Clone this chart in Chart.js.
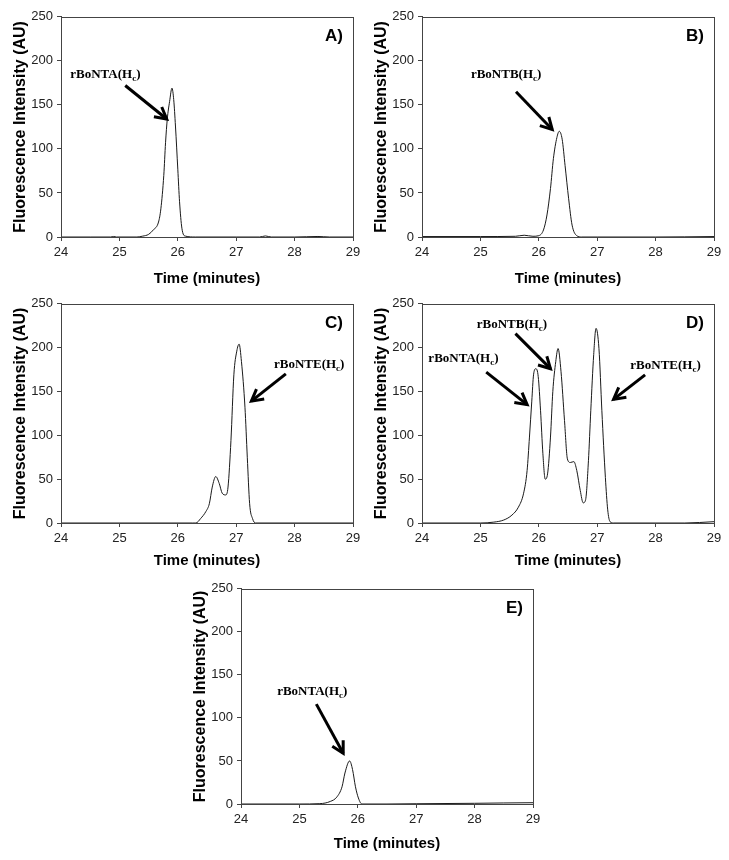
<!DOCTYPE html>
<html>
<head>
<meta charset="utf-8">
<title>rBoNT(Hc) electropherograms</title>
<script src="https://cdn.jsdelivr.net/npm/chart.js@4.4.1/dist/chart.umd.min.js"></script>
<style>
  body { margin: 0; background: #fff; }
  #page { position: relative; width: 729px; height: 860px; overflow: hidden; }
  #page canvas { position: absolute; }
</style>
</head>
<body>
<div id="page"></div>
<script>
// --- Data (time in minutes, intensity in AU) ---
const timeA = [24, 24.5, 24.85, 24.9, 24.95, 25.3, 25.4, 25.5, 25.58, 25.67, 25.71, 25.76, 25.79, 25.82, 25.86, 25.9, 25.93, 25.96, 26.0, 26.03, 26.07, 26.13, 26.3, 27.0, 27.4, 27.5, 27.6, 28.0, 28.4, 28.6, 29];
const intA  = [0, 0, 0, 0.6, 0, 0, 1, 3, 8, 17, 32, 70, 107, 134, 154, 169, 156, 126, 77, 40, 10, 1, 0, 0, 0, 1.2, 0, 0, 0.6, 0, 0];

const timeB = [24, 25, 25.6, 25.75, 25.9, 26.0, 26.08, 26.14, 26.2, 26.25, 26.31, 26.35, 26.4, 26.45, 26.51, 26.57, 26.65, 26.73, 27, 28, 29];
const intB  = [0.5, 0.5, 0.8, 2, 0.8, 1.5, 8, 25, 55, 89, 113, 120, 111, 81, 44, 13.5, 1.5, 0, 0, 0, 0.5];

const timeC = [24, 26.25, 26.31, 26.39, 26.48, 26.54, 26.59, 26.65, 26.71, 26.76, 26.82, 26.86, 26.91, 26.96, 27.01, 27.05, 27.09, 27.15, 27.19, 27.23, 27.28, 27.33, 29];
const intC  = [0, 0, 0, 5, 13, 22, 41, 53, 45, 34, 32, 41, 94, 169, 196, 204, 184, 132, 75, 22, 5, 0, 0];

const timeD = [24, 25.0, 25.23, 25.4, 25.54, 25.65, 25.74, 25.8, 25.84, 25.88, 25.91, 25.95, 25.99, 26.03, 26.07, 26.11, 26.15, 26.2, 26.24, 26.29, 26.33, 26.38, 26.44, 26.49, 26.54, 26.6, 26.65, 26.71, 26.76, 26.8, 26.85, 26.89, 26.94, 26.98, 27.03, 27.08, 27.14, 27.18, 27.22, 27.28, 28.5, 29];
const intD  = [0, 0, 1, 3.4, 9, 18, 34, 60, 98, 139, 169, 176, 167, 128, 79, 50, 56, 98, 150, 184, 199, 173, 117, 73, 69, 70, 60, 37, 23, 26, 71, 128, 192, 222, 199, 128, 52, 15, 1.5, 0, 0, 1.5];

const timeE = [24, 25.0, 25.35, 25.53, 25.64, 25.73, 25.78, 25.86, 25.91, 25.96, 26.01, 26.07, 26.5, 27, 28, 28.5, 29];
const intE  = [0, 0, 0.4, 3, 8, 20, 36, 50, 40, 20, 7, 0, 0, 0.3, 0.8, 1.2, 1.5];

// --- Peak labels: text centre and arrow (tail -> head), in data units ---
const notesA = [{ name: "rBoNTA", x: 24.76, y: 186, from: [25.10, 172], to: [25.81, 134] }];
const notesB = [{ name: "rBoNTB", x: 25.44, y: 186, from: [25.61, 165], to: [26.23, 122] }];
const notesC = [{ name: "rBoNTE", x: 28.25, y: 182, from: [27.85, 170], to: [27.26, 139] }];
const notesD = [
  { name: "rBoNTA", x: 24.71, y: 189, from: [25.10, 172], to: [25.80, 135] },
  { name: "rBoNTB", x: 25.54, y: 228, from: [25.60, 216], to: [26.20, 176] },
  { name: "rBoNTE", x: 28.17, y: 181, from: [27.82, 169], to: [27.28, 141] }
];
const notesE = [{ name: "rBoNTA", x: 25.22, y: 132, from: [25.29, 116], to: [25.75, 59] }];

const xTicks = { min: 24, max: 29, step: 1 };
const yTicks = { min: 0, max: 250, step: 50 };

const SANS = "'Liberation Sans', Arial, sans-serif";
const SERIF = "'Liberation Serif', 'Times New Roman', serif";

// --- Panel placement on the page ---
const panels = [
  { letter: "A)", time: timeA, values: intA, notes: notesA, left: 0,   top: 5,   height: 283, titleGap: 42 },
  { letter: "B)", time: timeB, values: intB, notes: notesB, left: 361, top: 5,   height: 283, titleGap: 42 },
  { letter: "C)", time: timeC, values: intC, notes: notesC, left: 0,   top: 292, height: 278, titleGap: 38 },
  { letter: "D)", time: timeD, values: intD, notes: notesD, left: 361, top: 292, height: 278, titleGap: 38 },
  { letter: "E)", time: timeE, values: intE, notes: notesE, left: 180, top: 577, height: 276, titleGap: 40 }
];

// --- Label with subscript c: name(Hc) ---
function drawNote(ctx, name, cx, cy) {
  const big = "bold 13px " + SERIF;
  const small = "bold 9px " + SERIF;
  ctx.font = big;
  const w1 = ctx.measureText(name + "(H").width;
  const w3 = ctx.measureText(")").width;
  ctx.font = small;
  const w2 = ctx.measureText("c").width;
  let x = cx - (w1 + w2 + w3) / 2;
  const base = cy + 4.5;
  ctx.textAlign = "left";
  ctx.textBaseline = "alphabetic";
  ctx.font = big;   ctx.fillText(name + "(H", x, base); x += w1;
  ctx.font = small; ctx.fillText("c", x, base + 3);    x += w2;
  ctx.font = big;   ctx.fillText(")", x, base);
}

function drawArrow(ctx, x1, y1, x2, y2) {
  const ang = Math.atan2(y2 - y1, x2 - x1);
  const len = 13;
  ctx.lineWidth = 3;
  ctx.lineCap = "butt";
  ctx.lineJoin = "miter";
  ctx.beginPath();
  ctx.moveTo(x1, y1);
  ctx.lineTo(x2, y2);
  ctx.stroke();
  ctx.beginPath();
  ctx.moveTo(x2 - len * Math.cos(ang - 0.5), y2 - len * Math.sin(ang - 0.5));
  ctx.lineTo(x2, y2);
  ctx.lineTo(x2 - len * Math.cos(ang + 0.5), y2 - len * Math.sin(ang + 0.5));
  ctx.stroke();
}

// --- Box frame, panel letter, peak labels ---
const peakNotes = {
  id: "peakNotes",
  afterDraw(chart, args, opts) {
    const { ctx, chartArea: a, scales: { x, y } } = chart;
    ctx.save();
    ctx.strokeStyle = "#444";
    ctx.lineWidth = 1;
    ctx.strokeRect(Math.round(a.left) + 0.5, Math.round(a.top) + 0.5,
                   Math.round(a.right - a.left), Math.round(a.bottom - a.top));

    ctx.fillStyle = "#000";
    ctx.font = "bold 17px " + SANS;
    ctx.textAlign = "right";
    ctx.textBaseline = "middle";
    ctx.fillText(opts.letter, a.right - 10, a.top + 20);

    ctx.strokeStyle = "#000";
    opts.notes.forEach(n => {
      drawNote(ctx, n.name, x.getPixelForValue(n.x), y.getPixelForValue(n.y));
      drawArrow(ctx,
        x.getPixelForValue(n.from[0]), y.getPixelForValue(n.from[1]),
        x.getPixelForValue(n.to[0]), y.getPixelForValue(n.to[1]));
    });
    ctx.restore();
  }
};

const page = document.getElementById("page");

panels.forEach(p => {
  const canvas = document.createElement("canvas");
  canvas.width = 365;
  canvas.height = p.height;
  canvas.style.left = p.left + "px";
  canvas.style.top = p.top + "px";
  page.appendChild(canvas);

  new Chart(canvas.getContext("2d"), {
    type: "line",
    data: {
      datasets: [{
        data: p.time.map((t, i) => ({ x: t, y: p.values[i] })),
        borderColor: "#1a1a1a",
        borderWidth: 1,
        pointRadius: 0,
        fill: false,
        cubicInterpolationMode: "monotone"
      }]
    },
    options: {
      responsive: false,
      animation: false,
      events: [],
      layout: { padding: { top: 10, right: 12, left: 0, bottom: 0 } },
      plugins: {
        legend: { display: false },
        tooltip: { enabled: false },
        peakNotes: { letter: p.letter, notes: p.notes }
      },
      scales: {
        x: {
          type: "linear",
          min: xTicks.min,
          max: xTicks.max,
          afterFit: s => { s.height = p.titleGap + 9; },
          ticks: { stepSize: xTicks.step, padding: 4, color: "#222", font: { family: SANS, size: 13 } },
          grid: { drawOnChartArea: false, tickLength: 4, color: "#444" },
          border: { color: "#444" },
          title: {
            display: true, text: "Time (minutes)", color: "#000",
            font: { family: SANS, size: 15, weight: "bold" }, padding: 0
          }
        },
        y: {
          min: yTicks.min,
          max: yTicks.max,
          afterFit: s => { s.width = 61; },
          ticks: { stepSize: yTicks.step, padding: 4, color: "#222", font: { family: SANS, size: 13 } },
          grid: { drawOnChartArea: false, tickLength: 4, color: "#444" },
          border: { color: "#444" },
          title: {
            display: true, text: "Fluorescence Intensity (AU)", color: "#000",
            font: { family: SANS, size: 16, weight: "bold" }, padding: { top: 11, bottom: 0 }
          }
        }
      }
    },
    plugins: [peakNotes]
  });
});
</script>
</body>
</html>
